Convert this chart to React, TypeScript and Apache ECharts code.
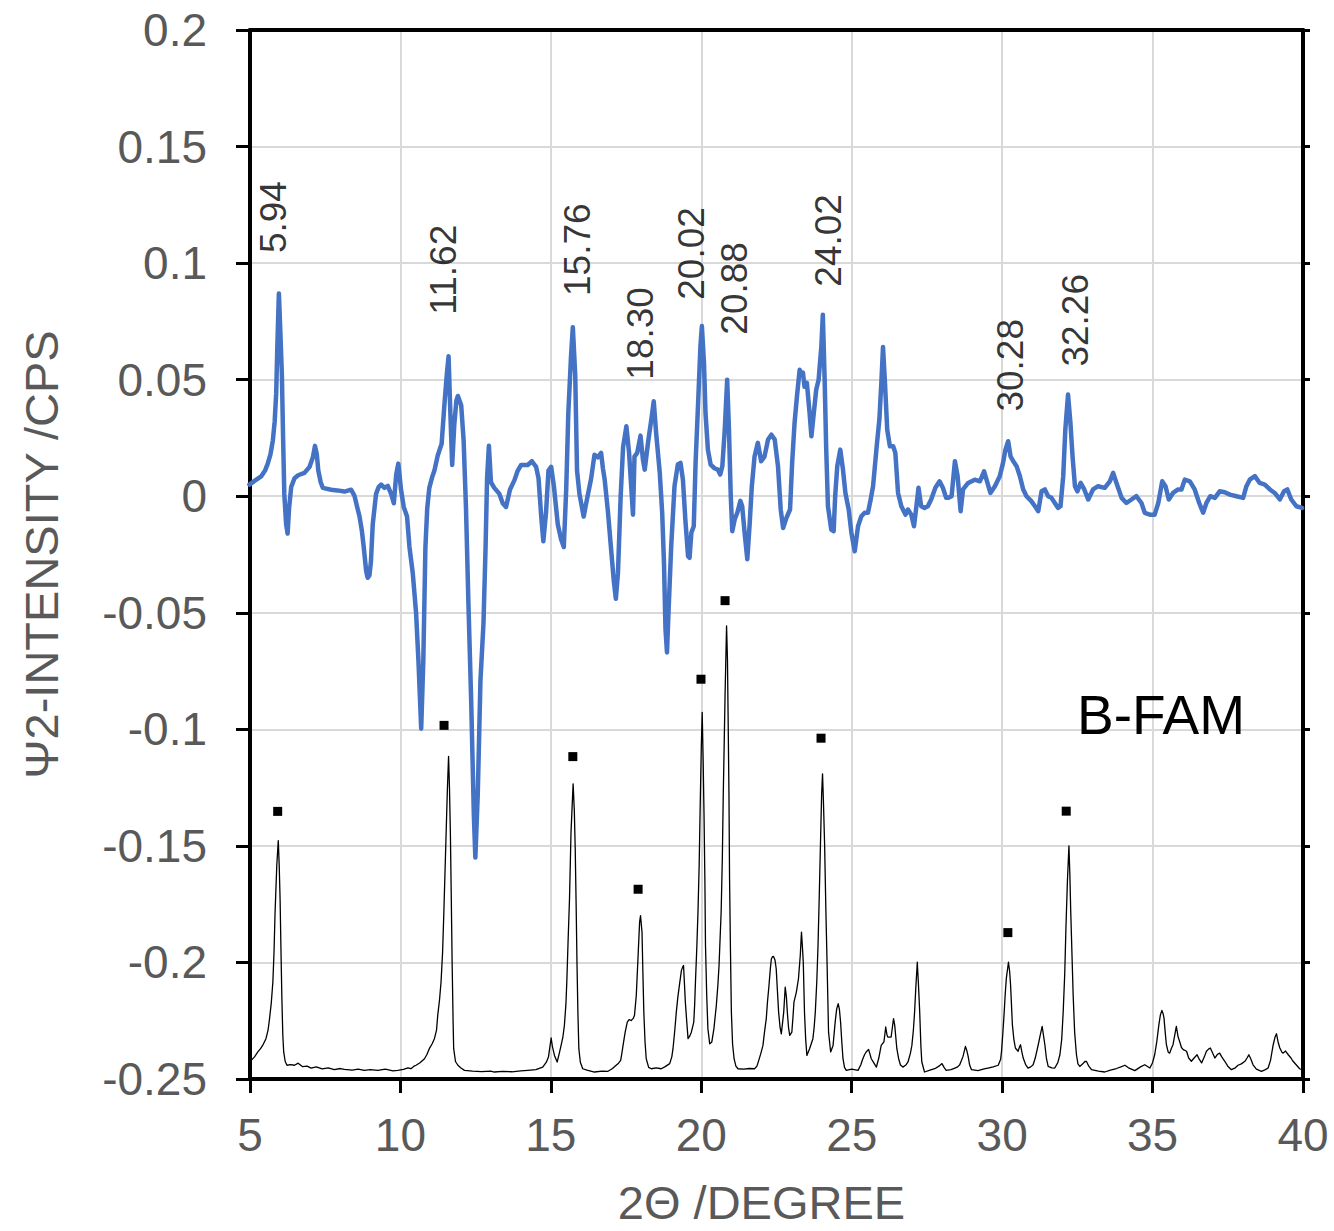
import React, { useEffect, useRef } from 'react';
import * as echarts from 'echarts';

// Ψ2 (derivative-like) curve, blue
const diffTheta = [
  4.98, 5.2, 5.37, 5.5, 5.59, 5.68, 5.76, 5.82, 5.87, 5.91, 5.96, 6.01, 6.06, 6.1, 6.14, 6.2, 6.25, 6.3, 6.37, 6.48,
  6.6, 6.81, 6.98, 7.09, 7.16, 7.22, 7.27, 7.35, 7.42, 7.7, 7.9, 8.14, 8.36, 8.47, 8.55, 8.64, 8.72, 8.78, 8.86, 8.91,
  8.97, 9.02, 9.08, 9.19, 9.28, 9.36, 9.47, 9.58, 9.69, 9.78, 9.86, 9.93, 10.02, 10.11, 10.22, 10.3, 10.41, 10.52, 10.6, 10.69,
  10.76, 10.83, 10.89, 10.96, 11.05, 11.13, 11.24, 11.37, 11.46, 11.54, 11.6, 11.66, 11.72, 11.79, 11.86, 11.91, 12.02, 12.1, 12.18, 12.26,
  12.35, 12.44, 12.49, 12.57, 12.66, 12.76, 12.83, 12.88, 12.94, 13.01, 13.12, 13.29, 13.4, 13.51, 13.64, 13.79, 13.9, 14.01, 14.23, 14.37,
  14.51, 14.59, 14.68, 14.75, 14.84, 14.92, 15.01, 15.1, 15.23, 15.34, 15.43, 15.51, 15.58, 15.67, 15.73, 15.81, 15.87, 15.95, 16.09, 16.19,
  16.34, 16.45, 16.56, 16.67, 16.73, 16.79, 16.9, 17.01, 17.09, 17.16, 17.23, 17.32, 17.4, 17.51, 17.6, 17.67, 17.73, 17.78, 17.87, 17.98,
  18.06, 18.12, 18.23, 18.34, 18.42, 18.5, 18.62, 18.7, 18.76, 18.81, 18.86, 18.91, 19.0, 19.11, 19.22, 19.31, 19.39, 19.47, 19.56, 19.61,
  19.67, 19.75, 19.81, 19.89, 19.97, 20.02, 20.09, 20.14, 20.22, 20.31, 20.44, 20.55, 20.63, 20.7, 20.78, 20.86, 20.92, 20.98, 21.03, 21.11,
  21.2, 21.3, 21.36, 21.44, 21.53, 21.61, 21.68, 21.77, 21.88, 21.99, 22.1, 22.22, 22.33, 22.44, 22.55, 22.64, 22.72, 22.83, 22.95, 23.02,
  23.1, 23.18, 23.27, 23.33, 23.38, 23.43, 23.51, 23.6, 23.66, 23.74, 23.82, 23.9, 23.99, 24.04, 24.1, 24.15, 24.21, 24.32, 24.4, 24.45,
  24.52, 24.62, 24.71, 24.79, 24.9, 24.99, 25.1, 25.21, 25.32, 25.43, 25.54, 25.63, 25.71, 25.83, 25.92, 25.99, 26.04, 26.1, 26.18, 26.27,
  26.38, 26.45, 26.54, 26.65, 26.79, 26.87, 26.98, 27.07, 27.15, 27.22, 27.31, 27.42, 27.53, 27.64, 27.78, 27.92, 28.03, 28.14, 28.2, 28.32,
  28.43, 28.52, 28.62, 28.7, 28.87, 29.09, 29.26, 29.4, 29.48, 29.61, 29.76, 29.92, 30.03, 30.11, 30.2, 30.28, 30.37, 30.48, 30.59, 30.7,
  30.81, 30.97, 31.09, 31.2, 31.31, 31.42, 31.53, 31.64, 31.75, 31.86, 31.94, 32.03, 32.1, 32.19, 32.27, 32.34, 32.42, 32.5, 32.61, 32.73,
  32.86, 33.02, 33.19, 33.41, 33.58, 33.69, 33.8, 33.97, 34.13, 34.3, 34.46, 34.63, 34.74, 34.91, 35.07, 35.19, 35.32, 35.43, 35.54, 35.68,
  35.85, 35.96, 36.07, 36.24, 36.4, 36.55, 36.68, 36.79, 36.92, 37.07, 37.23, 37.4, 37.57, 37.79, 38.01, 38.12, 38.23, 38.4, 38.56, 38.73,
  38.9, 39.06, 39.23, 39.37, 39.48, 39.61, 39.78, 39.97,
];
const diffValue = [
  0.005, 0.007, 0.0085, 0.011, 0.014, 0.018, 0.024, 0.032, 0.044, 0.065, 0.087, 0.07, 0.052, 0.025, 0.001, -0.012, -0.016, -0.005, 0.004, 0.0077,
  0.009, 0.01, 0.0126, 0.0167, 0.0216, 0.018, 0.011, 0.006, 0.0036, 0.0028, 0.0025, 0.002, 0.0028, 0.0003, -0.004, -0.0087, -0.015, -0.0218, -0.032, -0.035,
  -0.034, -0.028, -0.012, 0.001, 0.004, 0.005, 0.0036, 0.0044, 0.001, -0.003, 0.0093, 0.014, 0.0028, -0.0046, -0.0087, -0.0218, -0.033, -0.05, -0.071, -0.0997,
  -0.071, -0.022, -0.0054, 0.0036, 0.008, 0.011, 0.0175, 0.0225, 0.039, 0.052, 0.06, 0.0356, 0.0134, 0.0307, 0.041, 0.043, 0.039, 0.024, -0.0054, -0.046,
  -0.087, -0.1366, -0.155, -0.128, -0.079, -0.0546, -0.022, 0.0077, 0.0216, 0.006, 0.0036, 0.001, -0.003, -0.0046, 0.0028, 0.0069, 0.011, 0.0134, 0.0134, 0.015,
  0.0126, 0.0077, -0.0087, -0.0193, -0.007, 0.011, 0.0126, 0.0044, -0.012, -0.0185, -0.0218, 0.0028, 0.0356, 0.06, 0.0725, 0.052, 0.011, 0.001, -0.0087, -0.002,
  0.0077, 0.0178, 0.0167, 0.0186, 0.012, 0.007, -0.007, -0.024, -0.036, -0.044, -0.033, 0, 0.021, 0.03, 0.0186, 0.0043, -0.0079, 0.017, 0.0186, 0.026,
  0.0157, 0.0114, 0.023, 0.033, 0.0407, 0.027, 0.01, -0.007, -0.0286, -0.057, -0.067, -0.05, -0.0214, 0.0043, 0.0136, 0.0143, 0.007, -0.01, -0.0257, -0.0264,
  -0.0157, -0.0129, 0.0143, 0.0386, 0.064, 0.073, 0.057, 0.0357, 0.02, 0.0136, 0.012, 0.0114, 0.0093, 0.0129, 0.0286, 0.05, 0.0286, 0, -0.015, -0.01,
  -0.007, -0.002, -0.0043, -0.0157, -0.027, -0.0114, 0.0043, 0.017, 0.0229, 0.015, 0.017, 0.0243, 0.0264, 0.0243, 0.0129, -0.0057, -0.0136, -0.0093, -0.0057, 0.0143,
  0.0314, 0.0429, 0.0543, 0.052, 0.053, 0.047, 0.0486, 0.0357, 0.0257, 0.0357, 0.0457, 0.05, 0.064, 0.0779, 0.05, 0.0214, -0.0043, -0.0143, -0.015, 0,
  0.0129, 0.02, 0.0114, 0.0014, -0.0057, -0.0157, -0.0236, -0.0129, -0.0086, -0.0071, -0.0071, -0.0014, 0.0043, 0.0214, 0.033, 0.05, 0.064, 0.05, 0.0286, 0.0214,
  0.0214, 0.0186, 0.0014, -0.0043, -0.0079, -0.0057, -0.0079, -0.0129, -0.0043, 0.0036, -0.0043, -0.005, -0.0043, -0.0014, 0.0036, 0.0064, 0.0036, -0.0007, -0.0007, 0,
  0.015, 0.0086, -0.0064, 0.0029, 0.0057, 0.0071, 0.0064, 0.0107, 0.0071, 0.0014, 0.0043, 0.0086, 0.0143, 0.02, 0.0236, 0.0171, 0.015, 0.0129, 0.0086, 0.0029,
  0, -0.0021, -0.0043, -0.0064, 0.0021, 0.0029, 0, -0.0007, -0.0029, -0.005, -0.0043, 0.0086, 0.0286, 0.0436, 0.0314, 0.0171, 0.0043, 0.0021, 0.0057, 0.0029,
  -0.0014, 0.0029, 0.0043, 0.0036, 0.0064, 0.01, 0.0057, -0.0007, -0.0029, -0.0014, 0, -0.0029, -0.0071, -0.0079, -0.0079, -0.0029, 0.0064, 0.0043, -0.0014, 0.0014,
  0.0029, 0.0029, 0.0071, 0.0064, 0.0029, -0.0029, -0.0071, -0.0029, 0, -0.0007, 0.0021, 0.0017, 0.0007, 0, -0.0007, 0.0043, 0.0071, 0.0086, 0.0057, 0.005,
  0.0029, 0.0014, -0.0014, 0.0021, 0.0029, -0.0014, -0.0043, -0.005,
];

// XRD pattern, black (offset)
const xrdTheta = [
  5.0, 5.04, 5.15, 5.26, 5.35, 5.42, 5.53, 5.6, 5.65, 5.71, 5.76, 5.8, 5.83, 5.89, 5.94, 5.97, 6.0, 6.03, 6.06, 6.09,
  6.12, 6.17, 6.23, 6.35, 6.48, 6.6, 6.75, 6.9, 7.03, 7.2, 7.4, 7.6, 7.8, 8.0, 8.14, 8.4, 8.6, 8.8, 9.0, 9.25,
  9.5, 9.75, 9.91, 10.1, 10.25, 10.35, 10.45, 10.52, 10.65, 10.8, 10.88, 10.96, 11.05, 11.13, 11.2, 11.24, 11.3, 11.35, 11.4, 11.44,
  11.48, 11.52, 11.56, 11.6, 11.63, 11.66, 11.69, 11.72, 11.75, 11.77, 11.83, 11.91, 12.0, 12.13, 12.4, 12.7, 13.0, 13.12, 13.4, 13.7,
  14.0, 14.23, 14.5, 14.73, 14.85, 14.92, 14.97, 15.01, 15.05, 15.12, 15.21, 15.28, 15.34, 15.4, 15.45, 15.5, 15.53, 15.57, 15.62, 15.67,
  15.74, 15.78, 15.81, 15.84, 15.87, 15.9, 15.93, 15.98, 16.06, 16.2, 16.45, 16.7, 16.9, 17.05, 17.17, 17.25, 17.32, 17.36, 17.4, 17.47,
  17.54, 17.6, 17.67, 17.74, 17.78, 17.84, 17.9, 17.95, 17.98, 18.03, 18.06, 18.09, 18.13, 18.17, 18.25, 18.34, 18.5, 18.67, 18.8, 18.95,
  19.02, 19.06, 19.12, 19.17, 19.22, 19.28, 19.34, 19.38, 19.41, 19.44, 19.47, 19.52, 19.56, 19.62, 19.67, 19.75, 19.78, 19.81, 19.85, 19.89,
  19.93, 19.96, 20.0, 20.03, 20.06, 20.09, 20.12, 20.14, 20.18, 20.22, 20.28, 20.35, 20.42, 20.5, 20.55, 20.59, 20.66, 20.7, 20.73, 20.79,
  20.84, 20.87, 20.89, 20.92, 20.94, 20.97, 21.0, 21.04, 21.09, 21.15, 21.22, 21.4, 21.6, 21.77, 21.85, 21.91, 21.98, 22.05, 22.1, 22.16,
  22.2, 22.25, 22.3, 22.33, 22.37, 22.4, 22.45, 22.49, 22.53, 22.57, 22.62, 22.66, 22.7, 22.74, 22.79, 22.83, 22.86, 22.9, 22.94, 23.01,
  23.05, 23.08, 23.16, 23.23, 23.29, 23.33, 23.36, 23.39, 23.43, 23.47, 23.51, 23.6, 23.71, 23.75, 23.79, 23.84, 23.88, 23.92, 23.96, 24.0,
  24.03, 24.06, 24.1, 24.14, 24.18, 24.23, 24.3, 24.38, 24.45, 24.5, 24.55, 24.59, 24.63, 24.67, 24.71, 24.76, 24.82, 25.0, 25.21, 25.3,
  25.37, 25.43, 25.48, 25.56, 25.6, 25.65, 25.73, 25.82, 25.9, 25.98, 26.07, 26.1, 26.13, 26.17, 26.2, 26.31, 26.35, 26.39, 26.43, 26.46,
  26.5, 26.56, 26.62, 26.7, 26.8, 26.87, 26.95, 27.0, 27.05, 27.09, 27.13, 27.18, 27.22, 27.26, 27.3, 27.33, 27.42, 27.6, 27.76, 27.9,
  28.0, 28.07, 28.14, 28.3, 28.43, 28.52, 28.59, 28.65, 28.7, 28.78, 28.83, 28.87, 28.92, 28.98, 29.2, 29.4, 29.53, 29.7, 29.87, 29.95,
  29.98, 30.02, 30.07, 30.1, 30.14, 30.21, 30.25, 30.28, 30.31, 30.34, 30.39, 30.44, 30.53, 30.57, 30.61, 30.65, 30.7, 30.78, 30.86, 30.95,
  31.03, 31.1, 31.2, 31.27, 31.33, 31.37, 31.42, 31.47, 31.53, 31.65, 31.75, 31.85, 31.92, 31.98, 32.03, 32.08, 32.12, 32.17, 32.22, 32.25,
  32.28, 32.32, 32.36, 32.41, 32.47, 32.52, 32.58, 32.68, 32.75, 32.8, 32.88, 32.97, 33.2, 33.41, 33.6, 33.8, 33.95, 34.08, 34.2, 34.41,
  34.6, 34.74, 34.91, 35.0, 35.07, 35.14, 35.21, 35.26, 35.31, 35.35, 35.38, 35.42, 35.46, 35.52, 35.57, 35.62, 35.68, 35.74, 35.79, 35.85,
  35.9, 35.96, 36.02, 36.13, 36.2, 36.29, 36.38, 36.48, 36.55, 36.63, 36.72, 36.79, 36.86, 36.92, 37.0, 37.07, 37.15, 37.23, 37.3, 37.4,
  37.5, 37.62, 37.75, 37.84, 37.95, 38.07, 38.14, 38.2, 38.27, 38.34, 38.45, 38.62, 38.75, 38.84, 38.92, 39.01, 39.07, 39.12, 39.17, 39.23,
  39.3, 39.34, 39.42, 39.51, 39.6, 39.67, 39.78, 39.89, 40.0,
];
const xrdValue = [
  -0.2425, -0.242, -0.2405, -0.2384, -0.237, -0.2356, -0.2327, -0.229, -0.2241, -0.217, -0.2084, -0.195, -0.1799, -0.1584, -0.1477, -0.158, -0.1727, -0.195, -0.2156, -0.231,
  -0.2384, -0.2425, -0.2441, -0.2438, -0.2441, -0.2432, -0.2447, -0.2445, -0.2453, -0.2448, -0.2457, -0.2452, -0.246, -0.2455, -0.2459, -0.2462, -0.2458, -0.2463, -0.246, -0.2463,
  -0.2458, -0.2465, -0.2463, -0.2459, -0.2452, -0.2456, -0.2445, -0.2441, -0.243, -0.2413, -0.2395, -0.237, -0.235, -0.2327, -0.229, -0.2227, -0.216, -0.2084, -0.196, -0.1799,
  -0.162, -0.1441, -0.126, -0.1116, -0.125, -0.1441, -0.172, -0.2013, -0.225, -0.237, -0.2425, -0.2441, -0.2452, -0.2463, -0.2466, -0.2468, -0.2466, -0.247, -0.2467, -0.2469,
  -0.2465, -0.2463, -0.246, -0.2449, -0.2428, -0.2406, -0.236, -0.2324, -0.236, -0.2399, -0.2427, -0.239, -0.2356, -0.232, -0.227, -0.218, -0.2084, -0.192, -0.1727, -0.1441,
  -0.1234, -0.135, -0.1513, -0.175, -0.2013, -0.222, -0.237, -0.2428, -0.2456, -0.2462, -0.247, -0.2466, -0.2467, -0.2455, -0.2441, -0.2432, -0.242, -0.239, -0.2356, -0.2299,
  -0.2256, -0.2245, -0.2249, -0.224, -0.2227, -0.2141, -0.197, -0.1827, -0.1799, -0.187, -0.205, -0.2213, -0.234, -0.2413, -0.245, -0.2456, -0.2452, -0.2456, -0.2447, -0.2434,
  -0.2405, -0.237, -0.229, -0.2213, -0.215, -0.2091, -0.2034, -0.202, -0.2013, -0.209, -0.217, -0.226, -0.2327, -0.2315, -0.2299, -0.2256, -0.218, -0.207, -0.194, -0.1784,
  -0.158, -0.1356, -0.108, -0.0927, -0.112, -0.1356, -0.165, -0.1927, -0.214, -0.2284, -0.2349, -0.2341, -0.2284, -0.2184, -0.21, -0.2013, -0.1784, -0.155, -0.1284, -0.0856,
  -0.0556, -0.07, -0.0927, -0.128, -0.1641, -0.195, -0.2213, -0.235, -0.2413, -0.2445, -0.2456, -0.2458, -0.2455, -0.2456, -0.2445, -0.242, -0.239, -0.2356, -0.23, -0.2241,
  -0.217, -0.2099, -0.202, -0.1984, -0.1975, -0.1974, -0.199, -0.2027, -0.212, -0.2213, -0.228, -0.2306, -0.226, -0.2213, -0.2106, -0.215, -0.2213, -0.228, -0.2313, -0.2299,
  -0.223, -0.217, -0.2127, -0.207, -0.197, -0.187, -0.193, -0.1999, -0.2213, -0.233, -0.2399, -0.237, -0.2327, -0.228, -0.2213, -0.208, -0.1927, -0.172, -0.1499, -0.128,
  -0.1191, -0.131, -0.1499, -0.177, -0.1999, -0.2299, -0.2384, -0.2356, -0.2256, -0.22, -0.2177, -0.22, -0.2256, -0.234, -0.2413, -0.245, -0.2463, -0.2458, -0.2463, -0.244,
  -0.2413, -0.2395, -0.2384, -0.2373, -0.239, -0.2413, -0.243, -0.2449, -0.241, -0.2356, -0.2341, -0.231, -0.2277, -0.231, -0.232, -0.232, -0.228, -0.2241, -0.227, -0.2313,
  -0.237, -0.2413, -0.244, -0.2449, -0.244, -0.2427, -0.239, -0.2356, -0.229, -0.2213, -0.211, -0.1999, -0.21, -0.2213, -0.236, -0.2427, -0.247, -0.2462, -0.2456, -0.2445,
  -0.2434, -0.245, -0.2463, -0.246, -0.2453, -0.2448, -0.2439, -0.242, -0.2403, -0.236, -0.238, -0.2403, -0.244, -0.246, -0.2464, -0.2457, -0.2453, -0.2448, -0.2441, -0.2415,
  -0.2381, -0.231, -0.221, -0.214, -0.2067, -0.1999, -0.204, -0.2096, -0.218, -0.2267, -0.233, -0.2367, -0.2381, -0.2365, -0.2353, -0.238, -0.241, -0.2438, -0.2453, -0.2448,
  -0.2439, -0.241, -0.2353, -0.231, -0.2274, -0.231, -0.2353, -0.241, -0.2446, -0.2452, -0.2453, -0.243, -0.2396, -0.233, -0.221, -0.205, -0.1853, -0.165, -0.15, -0.162,
  -0.1781, -0.196, -0.2139, -0.23, -0.2396, -0.2435, -0.2446, -0.2435, -0.2425, -0.2424, -0.2445, -0.246, -0.2466, -0.247, -0.2462, -0.2455, -0.2448, -0.2441, -0.2452, -0.2464,
  -0.2448, -0.2439, -0.2453, -0.243, -0.2396, -0.234, -0.2267, -0.2225, -0.2206, -0.222, -0.2239, -0.23, -0.2353, -0.2385, -0.2389, -0.237, -0.2353, -0.231, -0.2274, -0.232,
  -0.2339, -0.2365, -0.2374, -0.2381, -0.241, -0.2424, -0.241, -0.2396, -0.2415, -0.2431, -0.2405, -0.2381, -0.2372, -0.2367, -0.239, -0.241, -0.2395, -0.2389, -0.2405, -0.2424,
  -0.2445, -0.246, -0.2452, -0.2441, -0.2435, -0.2424, -0.241, -0.2396, -0.2415, -0.2439, -0.2458, -0.2467, -0.246, -0.2453, -0.242, -0.2353, -0.232, -0.2306, -0.234, -0.2367,
  -0.2385, -0.2389, -0.238, -0.2396, -0.241, -0.2424, -0.244, -0.2456, -0.2462,
];

// Black square markers above the XRD peaks
const markerTheta = [5.92, 11.45, 15.73, 17.9, 19.99, 20.79, 23.98, 30.19, 32.13];
const markerValue = [-0.1352, -0.0983, -0.1117, -0.1686, -0.0785, -0.0448, -0.1038, -0.1872, -0.1351];

// Peak position labels (text, anchored at the start of the vertical text)
const peakLabels = ['5.94', '11.62', '15.76', '18.30', '20.02', '20.88', '24.02', '30.28', '32.26'];
const labelTheta = [5.77, 11.42, 15.89, 17.99, 19.68, 21.09, 24.23, 30.29, 32.45];
const labelValue = [0.1043, 0.0779, 0.0859, 0.05, 0.0843, 0.0693, 0.0899, 0.0363, 0.0556];

const xTicks = { min: 5, max: 40, interval: 5 };
const yTicks = { min: -0.25, max: 0.2, interval: 0.05 };

export default function App() {
  const ref = useRef<HTMLDivElement>(null);

  useEffect(() => {
    if (!ref.current) return;
    const chart = echarts.init(ref.current, null, { renderer: 'svg' });
    const font = "'Liberation Sans', Arial, Helvetica, sans-serif";
    const gray = '#595959';
    const axisLineStyle = { color: '#000', width: 4 };

    chart.setOption({
      animation: false,
      backgroundColor: '#ffffff',
      grid: { left: 250, top: 30, right: 31, bottom: 151, containLabel: false },
      xAxis: [
        {
          type: 'value',
          ...xTicks,
          position: 'bottom',
          axisLine: { show: true, onZero: false, lineStyle: axisLineStyle },
          axisTick: { show: true, inside: false, length: 14, lineStyle: { color: '#000', width: 3 } },
          axisLabel: { color: gray, fontSize: 46, fontFamily: font, margin: 33 },
          splitLine: { show: true, lineStyle: { color: '#d9d9d9', width: 2 } },
          name: '2Θ /DEGREE',
          nameLocation: 'middle',
          nameGap: 100,
          nameTextStyle: { color: gray, fontSize: 47, fontFamily: font, padding: [0, 30, 0, 0] },
        },
        {
          type: 'value',
          ...xTicks,
          position: 'top',
          axisLine: { show: true, onZero: false, lineStyle: axisLineStyle },
          axisTick: { show: false },
          axisLabel: { show: false },
          splitLine: { show: false },
        },
      ],
      yAxis: [
        {
          type: 'value',
          ...yTicks,
          position: 'left',
          axisLine: { show: true, onZero: false, lineStyle: axisLineStyle },
          axisTick: { show: true, inside: false, length: 14, lineStyle: { color: '#000', width: 3 } },
          axisLabel: { color: gray, fontSize: 46, fontFamily: font, margin: 43 },
          splitLine: { show: true, lineStyle: { color: '#d9d9d9', width: 2 } },
          name: 'Ψ2-INTENSITY /CPS',
          nameLocation: 'middle',
          nameGap: 185,
          nameTextStyle: { color: gray, fontSize: 47, fontFamily: font },
        },
        {
          type: 'value',
          ...yTicks,
          position: 'right',
          axisLine: { show: true, onZero: false, lineStyle: axisLineStyle },
          axisTick: { show: true, inside: false, length: 7, lineStyle: { color: '#000', width: 3 } },
          axisLabel: { show: false },
          splitLine: { show: false },
        },
      ],
      series: [
        {
          type: 'line',
          name: 'XRD',
          xAxisIndex: 0,
          yAxisIndex: 0,
          data: xrdTheta.map((t, i) => [t, xrdValue[i]]),
          showSymbol: false,
          symbol: 'none',
          lineStyle: { color: '#000', width: 1.3, join: 'round' },
          z: 2,
        },
        {
          type: 'line',
          name: 'Ψ2',
          xAxisIndex: 0,
          yAxisIndex: 0,
          data: diffTheta.map((t, i) => [t, diffValue[i]]),
          showSymbol: false,
          symbol: 'none',
          lineStyle: { color: '#4472C4', width: 4.5, join: 'round', cap: 'round' },
          z: 3,
        },
        {
          type: 'scatter',
          name: 'markers',
          data: markerTheta.map((t, i) => [t, markerValue[i]]),
          symbol: 'rect',
          symbolSize: 9,
          itemStyle: { color: '#000', opacity: 1 },
          z: 4,
        },
        {
          type: 'scatter',
          name: 'labels',
          data: labelTheta.map((t, i) => ({ value: [t, labelValue[i]], name: peakLabels[i] })),
          symbolSize: 1,
          itemStyle: { color: 'rgba(0,0,0,0)' },
          silent: true,
          label: {
            show: true,
            formatter: '{b}',
            position: 'inside',
            rotate: 90,
            align: 'left',
            verticalAlign: 'middle',
            color: '#000',
            fontSize: 37,
            fontFamily: font,
          },
          z: 5,
        },
      ],
      graphic: [
        {
          type: 'text',
          left: 1077,
          top: 687,
          style: { text: 'B-FAM', fill: '#000', fontSize: 55, fontFamily: font },
          z: 10,
        },
      ],
    });

    return () => {
      chart.dispose();
    };
  }, []);

  return (
    <div
      ref={ref}
      style={{ position: 'absolute', left: 0, top: 0, width: 1334, height: 1231, background: '#fff' }}
    />
  );
}
